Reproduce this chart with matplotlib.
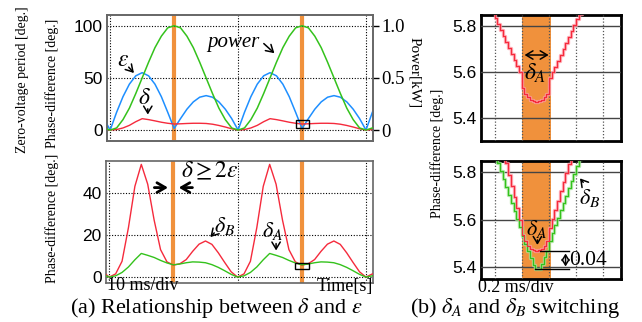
import matplotlib
matplotlib.use("Agg")
import matplotlib.pyplot as plt
from matplotlib.patches import Rectangle
import numpy as np

plt.rcParams["font.family"] = ["Liberation Serif", "DejaVu Serif"]
plt.rcParams["mathtext.fontset"] = "stix"

# ---- (a) waveforms, read every 0.5 ms from -0.5 ms to 20.5 ms ----
time_ms = np.arange(-0.5, 20.51, 0.5)
power_kw = [0.02,
            0, 0.02, 0.10, 0.21, 0.35, 0.50, 0.65, 0.79, 0.90, 0.98, 1.0,
            0.98, 0.90, 0.79, 0.65, 0.50, 0.35, 0.21, 0.10, 0.02, 0,
            0.02, 0.10, 0.21, 0.35, 0.50, 0.65, 0.79, 0.90, 0.98, 1.0,
            0.98, 0.90, 0.79, 0.65, 0.50, 0.35, 0.21, 0.10, 0.02, 0,
            0.02]
epsilon_deg = [11,
               0, 17, 32, 44, 52, 55, 52, 44, 32, 17, 1.5,
               11, 20, 27, 31.5, 33, 31.5, 27, 20, 11, 0,
               17, 32, 44, 52, 55, 52, 44, 32, 17, 1.5,
               11, 20, 27, 31.5, 33, 31.5, 27, 20, 11, 0,
               17]
delta_deg = [1.2,
             0, 0.5, 2, 4.5, 8, 10.9, 10, 8.8, 7.5, 6.5, 5.8,
             6.0, 6.3, 6.5, 6.5, 6.3, 5.6, 4.4, 2.9, 1.2, 0,
             0.5, 2, 4.5, 8, 10.9, 10, 8.8, 7.5, 6.5, 5.8,
             6.0, 6.3, 6.5, 6.5, 6.3, 5.6, 4.4, 2.9, 1.2, 0,
             0.5]
delta_a_deg = [1.3,
               0, 0.6, 2.2, 4.8, 8.2, 11.2, 10.3, 9.3, 7.9, 6.7, 5.8,
               6.2, 6.8, 7.2, 7.1, 6.8, 5.9, 4.6, 3.0, 1.3, 0,
               0.6, 2.2, 4.8, 8.2, 11.2, 10.3, 9.3, 7.9, 6.7, 5.8,
               6.2, 6.8, 7.2, 7.1, 6.8, 5.9, 4.6, 3.0, 1.3, 0,
               0.6]
delta_b_deg = [2.5,
               0, 1.5, 7.5, 23.5, 43, 53.4, 44, 27, 13, 7.2, 5.7,
               6.3, 8.3, 12.2, 15.6, 17.1, 15.5, 11.5, 6.9, 2.5, 0,
               1.5, 7.5, 23.5, 43, 53.4, 44, 27, 13, 7.2, 5.7,
               6.3, 8.3, 12.2, 15.6, 17.1, 15.5, 11.5, 6.9, 2.5, 0,
               1.5]
switch_times = [5, 15]

# ---- (b) zoom around the switching instant (ms, deg.) ----
zoom_red_top_x = [-0.04, -0.02, 0.00, 0.02, 0.04, 0.06, 0.08, 0.10, 0.12, 0.14, 0.16, 0.18,
                  0.20, 0.22, 0.24, 0.26, 0.28, 0.30, 0.32, 0.34, 0.36, 0.38,
                  0.40, 0.42, 0.44, 0.46, 0.48, 0.50, 0.52, 0.54, 0.56, 0.58, 0.60, 0.62, 0.64]
zoom_red_top_y = [5.887, 5.861, 5.835, 5.809, 5.782, 5.756, 5.730, 5.704, 5.678, 5.652, 5.625, 5.599,
                  5.530, 5.505, 5.490, 5.478, 5.472, 5.470, 5.472, 5.478, 5.490, 5.505,
                  5.573, 5.598, 5.624, 5.650, 5.675, 5.700, 5.726, 5.752, 5.778, 5.803, 5.829, 5.854, 5.880]
zoom_red_x = [0.06, 0.08, 0.10, 0.12, 0.14, 0.16, 0.18,
              0.20, 0.22, 0.24, 0.26, 0.28, 0.30, 0.32, 0.34, 0.36, 0.38,
              0.40, 0.42, 0.44, 0.46, 0.48, 0.50, 0.52, 0.54, 0.56]
zoom_red_y = [5.886, 5.838, 5.790, 5.743, 5.695, 5.648, 5.600,
              5.535, 5.510, 5.490, 5.478, 5.472, 5.470, 5.472, 5.478, 5.490, 5.510,
              5.567, 5.605, 5.643, 5.680, 5.720, 5.758, 5.796, 5.834, 5.872]
zoom_green_x = [-0.02, 0.00, 0.02, 0.04, 0.06, 0.08, 0.10, 0.12, 0.14, 0.16, 0.18,
                0.20, 0.22, 0.24, 0.26, 0.28, 0.30, 0.32, 0.34, 0.36, 0.38,
                0.40, 0.42, 0.44, 0.46, 0.48, 0.50, 0.52, 0.54, 0.56, 0.58, 0.60, 0.62, 0.64]
zoom_green_y = [5.905, 5.875, 5.840, 5.806, 5.772, 5.738, 5.704, 5.670, 5.636, 5.602, 5.568,
                5.534, 5.500, 5.470, 5.440, 5.410, 5.392, 5.392, 5.415, 5.445, 5.470,
                5.510, 5.545, 5.580, 5.610, 5.640, 5.670, 5.700, 5.735, 5.765, 5.795, 5.825, 5.855, 5.890]
switch_band = (0.2, 0.418)

ORANGE = "#f0913c"
BLUE = "#1e8fff"
GREEN = "#34c21c"
RED = "#f52a3c"
SANS = ["Liberation Sans", "DejaVu Sans"]

fig = plt.figure(figsize=(6.42, 3.22), dpi=100)
W, H = 642, 322


def box(l, t, r, b):
    return [l / W, 1 - b / H, (r - l) / W, (b - t) / H]


ax_top = fig.add_axes(box(107, 15, 373, 141))
ax_bot = fig.add_axes(box(106, 161, 373, 283))
ax_ra = fig.add_axes(box(481, 15, 621, 141))
ax_rb = fig.add_axes(box(481, 161, 621, 279))

# left panels
for ax in (ax_top, ax_bot):
    for s in ax.spines.values():
        s.set_color("#666666")
        s.set_linewidth(1.2)
    ax.set_xlim(-0.25, 20.55)
    ax.set_xticks([0, 10, 20])
    ax.set_xticklabels([])
    ax.grid(True, color="black", linestyle=(0, (1, 1.5)), linewidth=0.8)
    ax.tick_params(length=0, pad=3, labelsize=12.5)
    for t in switch_times:
        ax.axvline(t, color=ORANGE, lw=3, zorder=1.5)

ax_top.set_ylim(-10.5, 110.3)
ax_top.set_yticks([0, 50, 100])
ax_top.plot(time_ms, epsilon_deg, color=BLUE, lw=1.1, zorder=3)
ax_top.plot(time_ms, delta_deg, color=RED, lw=1.0, zorder=3)

ax_pow = ax_top.twinx()
ax_pow.set_ylim(-0.105, 1.103)
ax_pow.set_yticks([0, 0.5, 1.0])
ax_pow.set_yticklabels(["0", "0.5", "1.0"])
ax_pow.tick_params(axis="y", length=4, width=1, pad=2, labelsize=13.5)
for s in ax_pow.spines.values():
    s.set_color("#666666")
    s.set_linewidth(1.2)
ax_pow.plot(time_ms, power_kw, color=GREEN, lw=1.1, zorder=3)

ax_bot.set_ylim(-2.8, 55)
ax_bot.set_yticks([0, 20, 40])
ax_bot.plot(time_ms, delta_b_deg, color=RED, lw=1.0, zorder=3)
ax_bot.plot(time_ms, delta_a_deg, color=GREEN, lw=1.0, zorder=3)

for ax in (ax_top, ax_bot):
    for lab in ax.get_yticklabels():
        lab.set_family(SANS)

# right panels
for ax in (ax_ra, ax_rb):
    for s in ax.spines.values():
        s.set_color("black")
        s.set_linewidth(2)
    ax.set_xlim(-0.1, 0.93)
    ax.set_xticks([0, 0.2, 0.4, 0.6, 0.8])
    ax.set_xticklabels([])
    ax.set_yticks([5.4, 5.6, 5.8])
    ax.set_yticklabels(["5.4", "5.6", "5.8"], family=SANS)
    ax.tick_params(length=0, pad=3, labelsize=12.5)
    ax.set_axisbelow(False)
    ax.xaxis.grid(True, color="#555555", linestyle=(0, (1, 1.5)), linewidth=0.9)
    ax.yaxis.grid(True, color="#444444", linestyle="-", linewidth=1.0)
    ax.axvspan(*switch_band, color=ORANGE, lw=0, zorder=0.8)

ax_ra.set_ylim(5.3, 5.848)
ax_ra.plot(zoom_red_top_x, zoom_red_top_y, drawstyle="steps-post", color="#ff9aa5", lw=2.4, alpha=0.8, zorder=3)
ax_ra.plot(zoom_red_top_x, zoom_red_top_y, drawstyle="steps-post", color=RED, lw=0.9, zorder=3.2)

ax_rb.set_ylim(5.351, 5.848)
ax_rb.plot(zoom_red_x, zoom_red_y, drawstyle="steps-post", color="#ff9aa5", lw=2.4, alpha=0.8, zorder=3)
ax_rb.plot(zoom_green_x, zoom_green_y, drawstyle="steps-post", color="#a5e49a", lw=2.4, alpha=0.8, zorder=3)
ax_rb.plot(zoom_green_x, zoom_green_y, drawstyle="steps-post", color=GREEN, lw=0.9, zorder=3.2)
ax_rb.plot(zoom_red_x, zoom_red_y, drawstyle="steps-post", color=RED, lw=0.9, zorder=3.3)

arrow = dict(arrowstyle="->,head_length=0.5,head_width=0.3", color="black", lw=1.1)

# annotations (a)
ax_top.text(1.0, 67, r"$\varepsilon$", fontsize=17, ha="center", va="center")
ax_top.annotate("", xy=(2.0, 52.7), xytext=(1.3, 62.3), arrowprops=arrow)
ax_top.text(2.68, 30.4, r"$\delta$", fontsize=17, ha="center", va="center")
ax_top.annotate("", xy=(2.94, 12.2), xytext=(2.94, 23), arrowprops=arrow)
ax_top.text(9.6, 84, "power", style="italic", fontsize=15, ha="center", va="center")
ax_top.annotate("", xy=(13.0, 71.9), xytext=(11.85, 84.7), arrowprops=arrow)
ax_top.add_patch(Rectangle((14.5, 1.6), 1.05, 8, fill=False, ec="black", lw=1, zorder=5))

ax_bot.text(7.85, 50.3, r"$\delta \geq 2\varepsilon$", fontsize=17, ha="center", va="center")
big = dict(arrowstyle="->,head_length=0.6,head_width=0.35", color="black", lw=2)
ax_bot.annotate("", xy=(4.8, 42.4), xytext=(3.3, 42.4), arrowprops=big)
ax_bot.annotate("", xy=(5.2, 42.4), xytext=(6.7, 42.4), arrowprops=big)
ax_bot.text(9.0, 24.3, r"$\delta_B$", fontsize=16, ha="center", va="center")
ax_bot.annotate("", xy=(7.73, 18.0), xytext=(8.33, 21.9), arrowprops=arrow)
ax_bot.text(12.7, 21.9, r"$\delta_A$", fontsize=16, ha="center", va="center")
ax_bot.annotate("", xy=(13.0, 11.3), xytext=(13.0, 17.2), arrowprops=arrow)
ax_bot.add_patch(Rectangle((14.5, 3.8), 1.05, 3.1, fill=False, ec="black", lw=1, zorder=5))

# annotations (b)
ax_ra.annotate("", xy=switch_band[0:1] + (5.674,), xytext=switch_band[1:2] + (5.674,),
               arrowprops=dict(arrowstyle="<->,head_length=0.5,head_width=0.3", color="black", lw=1.1))
ax_ra.text(0.30, 5.594, r"$\delta_A$", fontsize=17, ha="center", va="center")

red_min = min(zoom_red_y)
green_min = min(zoom_green_y)
ax_rb.text(0.31, 5.56, r"$\delta_A$", fontsize=16, ha="center", va="center", zorder=6)
ax_rb.annotate("", xy=(0.315, 5.483), xytext=(0.315, 5.527), arrowprops=arrow)
ax_rb.text(0.70, 5.693, r"$\delta_B$", fontsize=16, ha="center", va="center")
ax_rb.annotate("", xy=(0.615, 5.784), xytext=(0.665, 5.749), arrowprops=arrow)
ax_rb.plot([0.334, 0.547], [red_min, red_min], color="black", lw=1, zorder=5)
ax_rb.plot([0.297, 0.547], [green_min, green_min], color="black", lw=1, zorder=5)
ax_rb.annotate("", xy=(0.522, green_min), xytext=(0.522, red_min),
               arrowprops=dict(arrowstyle="<->,head_length=0.4,head_width=0.25", color="black", lw=1.1))
ax_rb.text(0.55, (red_min + green_min) / 2, "0.04", fontsize=15.5, ha="left", va="center")

# labels and captions
fig.text(23 / W, 1 - 80 / H, "Zero-voltage period [deg.]", rotation=90, ha="center", va="center", fontsize=10)
fig.text(52 / W, 1 - 83 / H, "Phase-difference [deg.]", rotation=90, ha="center", va="center", fontsize=10)
fig.text(52 / W, 1 - 218 / H, "Phase-difference [deg.]", rotation=90, ha="center", va="center", fontsize=10)
fig.text(415 / W, 1 - 73 / H, "Power[kW]", rotation=-90, ha="center", va="center", fontsize=11)
fig.text(437 / W, 1 - 153 / H, "Phase-difference [deg.]", rotation=90, ha="center", va="center", fontsize=10)

fig.text(107 / W, 1 - 286 / H, "10 ms/div", ha="left", va="center", fontsize=13)
fig.text(373 / W, 1 - 286 / H, "Time[s]", ha="right", va="center", fontsize=13)
fig.text(478 / W, 1 - 287 / H, "0.2 ms/div", ha="left", va="center", fontsize=13)
fig.text(216 / W, 1 - 308 / H, r"(a) Relationship between $\delta$ and $\varepsilon$",
         ha="center", va="center", fontsize=16)
fig.text(515 / W, 1 - 308 / H, r"(b) $\delta_A$ and $\delta_B$ switching",
         ha="center", va="center", fontsize=16)

fig.savefig("out.png", dpi=100)
